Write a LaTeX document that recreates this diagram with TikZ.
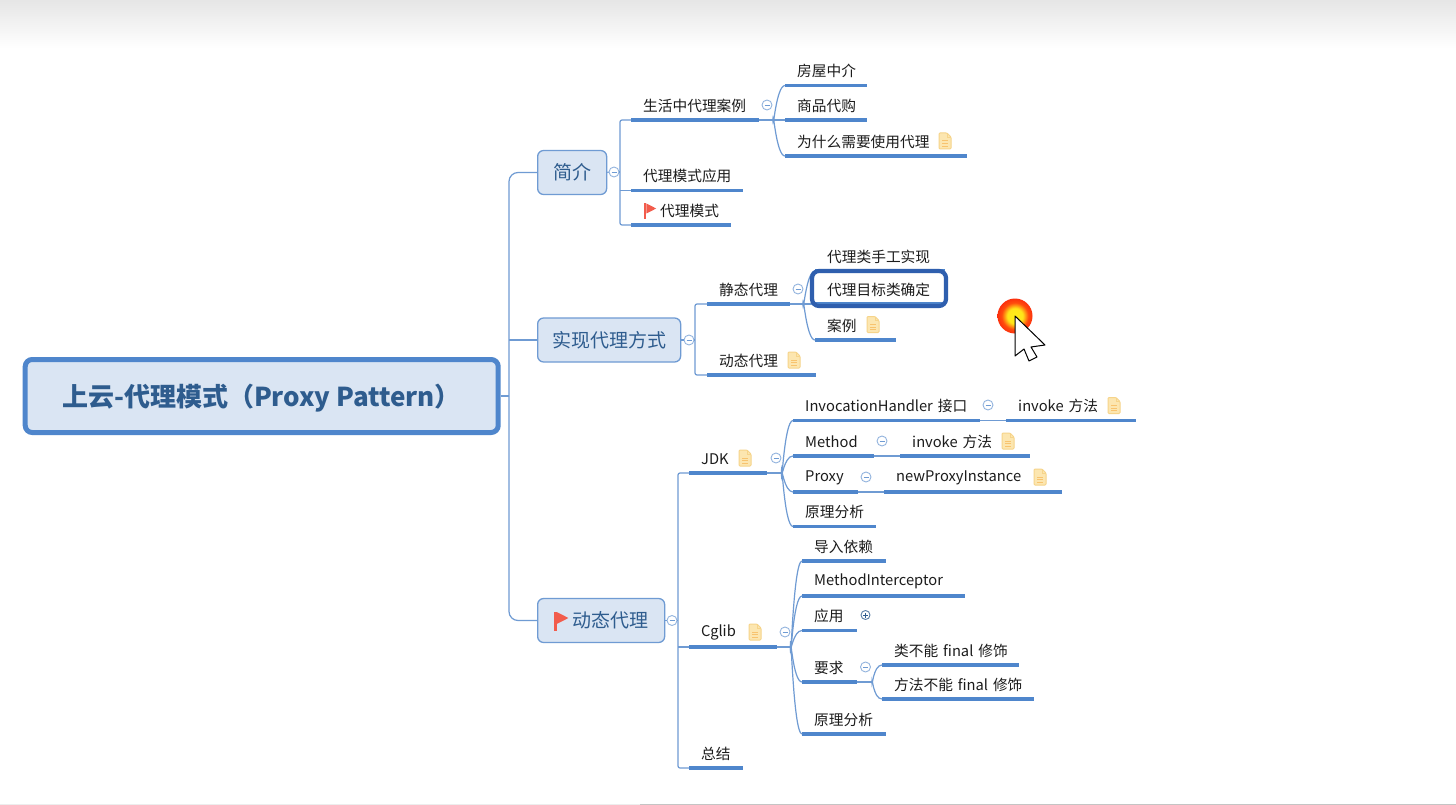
\documentclass[tikz,border=0pt]{standalone}
\usepackage{fontspec}
\setmainfont{Noto Sans CJK SC}
\usetikzlibrary{shadings}
\definecolor{ln}{HTML}{6F9BD3}
\definecolor{ul}{HTML}{4F86CC}
\definecolor{bx}{HTML}{DAE5F3}
\definecolor{tt}{HTML}{2E5C8E}
\definecolor{ink}{HTML}{1C1C1C}
\definecolor{flagc}{HTML}{F25C4C}
\definecolor{docf}{HTML}{FCE6B0}
\definecolor{docd}{HTML}{F6D48A}
\definecolor{selc}{HTML}{2F5FAE}
\pgfdeclareradialshading{glow}{\pgfpoint{0bp}{0bp}}{
  rgb(0bp)=(1,.93,.1);
  rgb(11bp)=(1,.9,.1);
  rgb(19bp)=(1,.3,.05);
  rgb(27bp)=(.98,.15,.05);
  rgb(34bp)=(1,.5,.05);
  rgb(41bp)=(1,.85,.05);
  rgb(50bp)=(1,.92,.2)}
\tikzset{
  x=1pt,y=-1pt,
  conn/.style={draw=ln,line width=1.2pt},
  curved/.style={out=90,in=180,in distance=9pt},
  curvedup/.style={out=-90,in=180,in distance=9pt},
  topicbox/.style={anchor=south west,minimum height=28pt,inner ysep=0pt,inner xsep=12pt,align=left,font=\fontsize{14.7}{17}\selectfont,text=ink},
  uline/.style={draw=ul,line width=3.4pt},
  mainbox/.style={draw=ln,fill=bx,rounded corners=6pt,line width=1.3pt,minimum height=44pt,inner xsep=0pt,anchor=west,text=tt,font=\fontsize{19}{22}\selectfont},
  circ/.style={circle,draw=ln!75,fill=white,line width=.9pt,minimum size=10pt,inner sep=0pt},
  pics/doc/.style={code={
    \draw[fill=docf,draw=docd,line width=1pt,rounded corners=1pt] (-6,-8)--(2,-8)--(6,-4)--(6,8)--(-6,8)--cycle;
    \draw[draw=docd!80!orange,line width=1pt] (-3,0)--(3,0) (-3,2.7)--(3,2.7) (-3,5.3)--(3,5.3);
    \draw[draw=docd,line width=.8pt] (2,-8)--(2,-4)--(6,-4);
  }},
  pics/flag/.style={code={
    \fill[flagc] (-5.8,-7.5) rectangle (-3.6,8);
    \fill[flagc] (-3.6,-7.5)--(6.2,-2.5)--(-3.6,2.5)--cycle;
  }},
}
\newcommand{\topic}[5]{% name, x0, x1, y, text
  \pgfmathsetmacro{\topwd}{#3-#2-24}
  \node[topicbox,text width=\topwd pt] (#1) at (#2,#4) {\mbox{#5}};
  \draw[uline] (#1.south west) -- (#1.south east);
}
\newcommand{\cminus}[3]{% name x y
  \node[circ] (#1) at (#2,#3) {};
  \draw[ln,line width=.8pt] ([xshift=-2.5pt]#1.center) -- ([xshift=2.5pt]#1.center);
}
\begin{document}
\begin{tikzpicture}
\useasboundingbox (0,0) rectangle (1456,805);
\fill[white] (0,0) rectangle (1456,805);
\shade[top color=black!10,bottom color=white] (0,0) rectangle (1456,48);
\fill[black!7] (0,803.5) rectangle (640,805);
\fill[black!23] (640,803.5) rectangle (1456,805);

% main level
\node[draw=ul,fill=bx,line width=5pt,rounded corners=7pt,minimum width=473pt,minimum height=73pt,inner sep=0pt] (root) at (261.7,396) {};
\node[text=tt,font=\fontsize{26}{30}\bfseries\selectfont,inner sep=0pt] (roottext) at (261.5,398) {上云-代理模式（Proxy Pattern）};
\coordinate (trunk) at (509,396);
\node[mainbox,minimum width=69pt] (jj) at (537,172.5) {简介};
\node[mainbox,minimum width=143pt] (sx) at (537,340) {实现代理方式};
\node[mainbox,minimum width=127pt,align=left] (dt) at (537,620.5) {\hspace{19pt}动态代理};
\path (561,621) pic[scale=1.2] {flag};
\draw[conn] (root.east) -- (trunk);
\draw[conn,rounded corners=9pt] (jj.west) -| (trunk);
\draw[conn,rounded corners=9pt] (dt.west) -| (trunk);
\coordinate (sxj) at (509,340);
\draw[conn] (sx.west) -- (sxj);

% jianjie
\coordinate (v1) at (620,172);
\cminus{c1}{614}{172}
\draw[conn] (jj.east) -- (c1.west);
\topic{a1}{631}{759}{120}{生活中代理案例}
\topic{a2}{631}{743}{190.5}{代理模式应用}
\topic{a3}{631}{731}{225}{\hspace{17pt}代理模式}
\path (650,211) pic {flag};
\draw[conn] (c1.east) -- (v1);
\draw[conn,rounded corners=2pt] (a1.south west) -| (v1) |- (a3.south west);
\draw[conn] (v1 |- a2.south west) -- (a2.south west);

\coordinate (j1) at (773,120);
\topic{a11}{785}{867}{85.5}{房屋中介}
\topic{a12}{785}{867}{120}{商品代购}
\topic{a13}{785}{967}{156}{为什么需要使用代理}
\path (945,141) pic {doc};
\draw[conn] (a1.south east) -- (a12.south west);
\draw[conn] (j1) to[curvedup] (a11.south west);
\draw[conn] (j1) to[curved] (a13.south west);
\cminus{c11}{767}{105}

% shixian
\cminus{c2}{689}{340}
\draw[conn] (sx.east) -- (c2.west);
\topic{b1}{707}{790}{304}{静态代理}
\topic{b2}{707}{816}{375}{动态代理}
\path (794,360) pic {doc};
\coordinate (v2) at (695,340);
\draw[conn] (c2.east) -- (v2);
\draw[conn,rounded corners=2pt] (b1.south west) -| (v2) |- (b2.south west);
\coordinate (j2) at (803,304);
\topic{b11}{815}{945}{271}{\raisebox{1pt}{代理类手工实现}}
\topic{b12}{815}{945}{304}{代理目标类确定}
\topic{b13}{815}{896}{340}{案例}
\path (873,324.5) pic {doc};
\draw[conn] (b1.south east) -- (b12.south west);
\draw[conn] (j2) to[curvedup] (b11.south west);
\draw[conn] (j2) to[curved] (b13.south west);
\cminus{c21}{798}{289}
\node[draw=selc,rounded corners=7pt,line width=4.2pt,minimum width=134pt,minimum height=35pt,inner sep=0pt] (sel) at (879,288.5) {};

% dongtai
\cminus{c3}{672}{620.5}
\draw[conn] (dt.east) -- (c3.west);
\coordinate (v3) at (678,620.5);
\draw[conn] (c3.east) -- (v3);
\topic{d1}{689}{767}{473}{JDK}
\path (745,458) pic {doc};
\topic{d2}{689}{777}{647}{Cglib}
\path (755,632) pic {doc};
\topic{d3}{689}{743}{768}{总结}
\draw[conn,rounded corners=2pt] (d1.south west) -| (v3) |- (d3.south west);
\draw[conn] (v3 |- d2.south west) -- (d2.south west);

% JDK
\coordinate (j3) at (781.5,473);
\draw[conn] (d1.south east) -- (j3);
\topic{e1}{793}{980}{420.5}{InvocationHandler 接口}
\topic{e2}{793}{874}{456}{Method}
\topic{e3}{793}{858}{492}{Proxy}
\topic{e4}{793}{876}{526.5}{原理分析}
\draw[conn] (j3) to[curvedup] (e1.south west);
\draw[conn] (j3) to[curvedup] (e2.south west);
\draw[conn] (j3) to[curved] (e3.south west);
\draw[conn] (j3) to[curved] (e4.south west);
\cminus{c31}{776}{458}
\topic{e11}{1006}{1136}{420.5}{invoke 方法}
\path (1114,405.5) pic {doc};
\topic{e21}{900}{1030}{456}{invoke 方法}
\path (1008,441) pic {doc};
\topic{e31}{884}{1062}{492}{newProxyInstance}
\path (1040,477) pic {doc};
\draw[conn] (e1.south east) -- (e11.south west);
\draw[conn] (e2.south east) -- (e21.south west);
\draw[conn] (e3.south east) -- (e31.south west);
\cminus{c311}{988}{405}
\cminus{c321}{882}{441}
\cminus{c331}{866}{477}

% Cglib
\coordinate (j4) at (790.5,647);
\draw[conn] (d2.south east) -- (j4);
\topic{f1}{802}{886}{561}{导入依赖}
\topic{f2}{802}{965}{596}{MethodInterceptor}
\topic{f3}{802}{857}{630.5}{应用}
\topic{f4}{802}{857}{682}{要求}
\topic{f5}{802}{886}{734}{原理分析}
\draw[conn] (j4) to[curvedup] (f1.south west);
\draw[conn] (j4) to[curvedup] (f2.south west);
\draw[conn] (j4) to[curvedup] (f3.south west);
\draw[conn] (j4) to[curved] (f4.south west);
\draw[conn] (j4) to[curved] (f5.south west);
\cminus{c32}{785}{632}
\node[circ,minimum size=9pt,draw=tt!80] (c33) at (865.5,615) {};
\draw[tt,line width=.8pt] ([xshift=-2.5pt]c33.center) -- ([xshift=2.5pt]c33.center) ([yshift=-2.5pt]c33.center) -- ([yshift=2.5pt]c33.center);
\coordinate (j5) at (872,682);
\draw[conn] (f4.south east) -- (j5);
\topic{f41}{882}{1019}{665}{类不能 final 修饰}
\topic{f42}{882}{1034}{699}{方法不能 final 修饰}
\draw[conn] (j5) to[curvedup] (f41.south west);
\draw[conn] (j5) to[curved] (f42.south west);
\cminus{c34}{865.5}{667}

% cursor
\shade[shading=glow] (1015,316) circle (17.5);
\draw[black,fill=white,line width=1pt,line join=round] (1015,316)--(1045,345)--(1031,347)--(1037,357)--(1029,361)--(1024,349)--(1015,356)--cycle;
\end{tikzpicture}
\end{document}
